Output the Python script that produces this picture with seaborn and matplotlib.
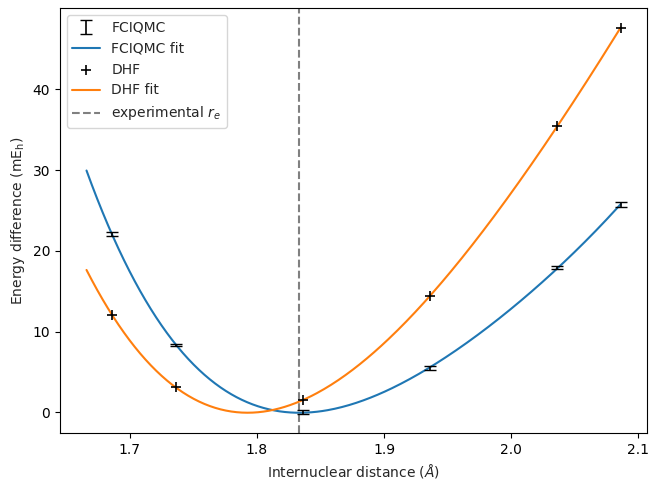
import numpy as np
import pandas as pd
import matplotlib
matplotlib.use("Agg")
import matplotlib.pyplot as plt
import seaborn as sns

# data
distance = [1.686, 1.736, 1.836, 1.936, 2.036, 2.086]
fciqmc = [22.1, 8.35, 0.1, 5.45, 17.9, 25.75]
fciqmc_err = [0.2, 0.15, 0.25, 0.25, 0.2, 0.3]
dhf = [12.1, 3.1, 1.55, 14.4, 35.4, 47.65]
r_exp = 1.833
fit_range = (1.666, 2.086)

sns.set_style("ticks")
plt.rcParams["font.family"] = ["DejaVu Sans"]

df = pd.DataFrame({"r": distance, "fciqmc": fciqmc, "err": fciqmc_err, "dhf": dhf})

# quartic fits to the points
grid = np.linspace(*fit_range, 300)
fit = pd.DataFrame({
    "r": grid,
    "fciqmc": np.polyval(np.polyfit(df["r"], df["fciqmc"], 4), grid),
    "dhf": np.polyval(np.polyfit(df["r"], df["dhf"], 4), grid),
})

fig, ax = plt.subplots(figsize=(6.5, 4.8), dpi=100)

eb = ax.errorbar(df["r"], df["fciqmc"], yerr=df["err"], fmt="none",
                 ecolor="black", capsize=4, elinewidth=1.2, label="FCIQMC", zorder=3)
sns.lineplot(data=fit, x="r", y="fciqmc", color="#1f77b4", linewidth=1.5,
             label="FCIQMC fit", ax=ax)
sns.scatterplot(data=df, x="r", y="dhf", marker="+", color="black", s=50,
                linewidth=1.2, label="DHF", ax=ax, zorder=3)
sns.lineplot(data=fit, x="r", y="dhf", color="#ff7f0e", linewidth=1.5,
             label="DHF fit", ax=ax)
ax.axvline(r_exp, color="gray", linestyle="--", linewidth=1.5,
           label="experimental $r_e$")

for s in ax.spines.values():
    s.set_visible(True)
    s.set_color("black")
    s.set_linewidth(0.8)
ax.tick_params(direction="out", length=3.5, width=0.8, colors="black", labelsize=10)

ax.set_xlabel("Internuclear distance ($Å$)", fontsize=10)
ax.set_ylabel(r"Energy difference (mE$_\mathrm{h}$)", fontsize=10)
ax.set_xticks([1.7, 1.8, 1.9, 2.0, 2.1])
ax.set_yticks([0, 10, 20, 30, 40])

handles, labels = ax.get_legend_handles_labels()
order = ["FCIQMC", "FCIQMC fit", "DHF", "DHF fit", "experimental $r_e$"]
lookup = dict(zip(labels, handles))
ax.legend([lookup[k] for k in order], order, loc="upper left", fontsize=10, frameon=True)

fig.subplots_adjust(left=0.092, right=0.996, top=0.983, bottom=0.098)
plt.savefig("out.png", dpi=100)
